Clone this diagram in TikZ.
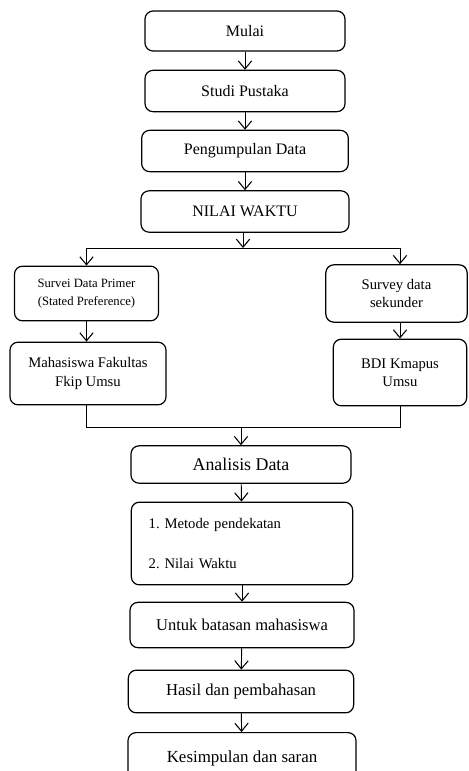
\documentclass[tikz,border=0pt]{standalone}
\usepackage{fontspec}
\setmainfont{Liberation Serif}
\usetikzlibrary{positioning, arrows.meta}

\tikzset{
  box/.style={draw, rectangle, rounded corners=6pt, line width=0.9pt, align=center},
  arr/.style={-{Straight Barb[length=6pt,width=10pt,line width=0.8pt]}, line width=0.7pt},
  garis/.style={line width=0.6pt}
}

\begin{document}
\begin{tikzpicture}[x=0.75pt, y=-0.75pt]
\useasboundingbox (0,0) rectangle (468,771);
% alur utama
\node (mulai) [box, minimum width=150pt, minimum height=30pt, font=\fontsize{12}{14}\selectfont] at (245,31) {Mulai};
\node (studi) [box, minimum width=150pt, minimum height=31pt, font=\fontsize{12}{14}\selectfont] at (245,91) {Studi Pustaka};
\node (kumpul) [box, minimum width=155pt, minimum height=31pt, font=\fontsize{12}{14}\selectfont] at (245,151) {Pengumpulan Data};
\node (nilai) [box, minimum width=156pt, minimum height=31pt, font=\fontsize{12}{14}\selectfont] at (245,211.5) {NILAI WAKTU};
% cabang survei
\node (primer) [box, minimum width=108pt, minimum height=41pt, font=\fontsize{9.5}{13.5}\selectfont] at (86.5,293.5) {Survei Data Primer\\(Stated Preference)};
\node (sekunder) [box, minimum width=106pt, minimum height=43pt, font=\fontsize{11}{13.5}\selectfont] at (396.5,293.5) {Survey data\\sekunder};
\node (mhs) [box, minimum width=117pt, minimum height=47pt, font=\fontsize{11}{13.7}\selectfont] at (88,373.5) {Mahasiswa Fakultas\\Fkip Umsu};
\node (bdi) [box, minimum width=100pt, minimum height=50pt, font=\fontsize{11}{13.7}\selectfont] at (400,372.5) {BDI Kmapus\\Umsu};
% analisis
\node (analisis) [box, minimum width=165pt, minimum height=28pt, font=\fontsize{13.4}{15}\selectfont] at (241,464.5) {Analisis Data};
\node (metode) [box, align=left, text width=140pt, inner xsep=13pt, minimum height=62pt, font=\fontsize{11}{30}\selectfont] at (242,543.5) {1.\ Metode pendekatan\\2.\ Nilai Waktu};
\node (untuk) [box, minimum width=168pt, minimum height=34pt, font=\fontsize{12.4}{15}\selectfont] at (242,625) {Untuk batasan mahasiswa};
\node (hasil) [box, minimum width=169pt, minimum height=32pt, font=\fontsize{12.5}{15}\selectfont] at (241,691.5) {Hasil dan pembahasan};
\node (simpul) [box, minimum width=171pt, minimum height=38pt, font=\fontsize{12.7}{15}\selectfont, anchor=north] at (242,732) {Kesimpulan dan saran};
\coordinate (pisah) at (243,248);
\coordinate (gabung) at (241,427);
\draw[arr] (mulai) -- (studi);
\draw[arr] (studi) -- (kumpul);
\draw[arr] (kumpul) -- (nilai);
\draw[arr] (nilai.south -| pisah) -- (pisah);
\draw[garis] (pisah -| primer) -- (pisah -| bdi);
\draw[arr] (pisah -| primer) -- (primer.north);
\draw[arr] (pisah -| bdi) -- (bdi.north |- sekunder.north);
\draw[arr] (primer.south) -- (primer.south |- mhs.north);
\draw[arr] (bdi.north |- sekunder.south) -- (bdi.north);
\draw[garis] (mhs.south -| primer) -- (gabung -| primer) -- (gabung -| bdi) -- (bdi.south);
\draw[arr] (gabung) -- (analisis.north -| gabung);
\draw[arr] (analisis) -- (metode);
\draw[arr] (metode) -- (untuk);
\draw[arr] (untuk) -- (hasil);
\draw[arr] (hasil) -- (simpul);
\end{tikzpicture}
\end{document}
